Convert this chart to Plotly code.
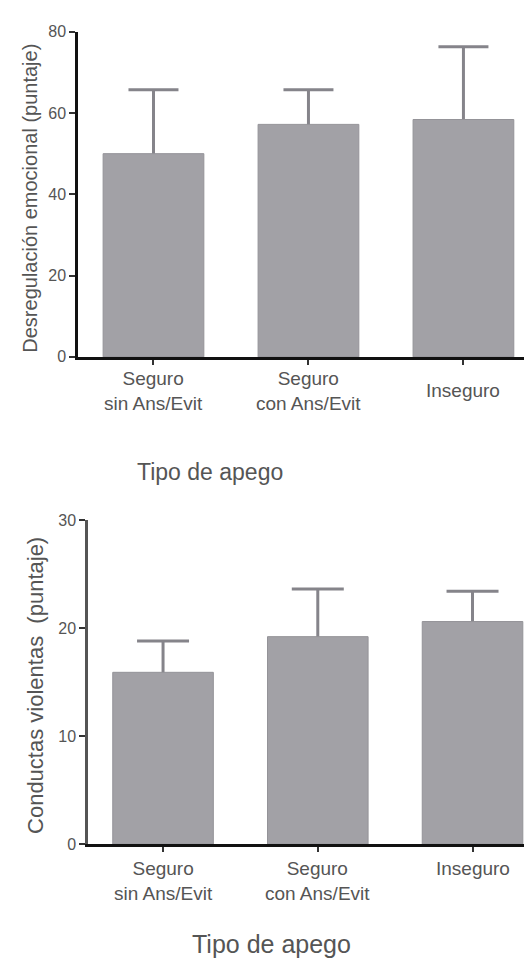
import plotly.graph_objects as go

# ---- data ----
categories = ["Seguro<br>sin Ans/Evit", "Seguro<br>con Ans/Evit", "Inseguro"]
desregulacion_mean = [50.0, 57.2, 58.4]
desregulacion_err = [15.7, 8.5, 17.9]
conductas_mean = [15.9, 19.2, 20.6]
conductas_err = [2.9, 4.4, 2.8]
y1_ticks = [0, 20, 40, 60, 80]
y2_ticks = [0, 10, 20, 30]
y1_title = "Desregulación emocional (puntaje)"
y2_title = "Conductas violentas  (puntaje)"
x_title = "Tipo de apego"

W, H = 532, 964
BAR = "#a2a1a6"
BAR_EDGE = "#949398"
ERR = "#85848a"
TXT = "#555555"
FONT = "Liberation Sans, Arial, sans-serif"

def px(v):
    return v / W

def py(v):
    return 1 - v / H

fig = go.Figure()

def add_panel(means, errs, xa, ya, capw):
    # transparent bar carrying symmetric error bars (lower half hidden by the bar drawn above)
    fig.add_trace(go.Bar(
        x=categories, y=means, width=0.65,
        marker=dict(color="rgba(0,0,0,0)", line=dict(width=0)),
        error_y=dict(type="data", array=errs, symmetric=True,
                     color=ERR, thickness=3, width=capw),
        xaxis=xa, yaxis=ya, showlegend=False, hoverinfo="skip"))
    fig.add_trace(go.Bar(
        x=categories, y=means, width=0.65,
        marker=dict(color=BAR, line=dict(width=1, color=BAR_EDGE)),
        xaxis=xa, yaxis=ya, showlegend=False))

add_panel(desregulacion_mean, desregulacion_err, "x", "y", 25)
add_panel(conductas_mean, conductas_err, "x2", "y2", 26)

xcommon = dict(type="category", showgrid=False, zeroline=False,
               showline=True, linecolor="#111111", linewidth=3,
               ticks="outside", ticklen=5, tickwidth=2, tickcolor="#333333",
               showticklabels=False, fixedrange=True)
ycommon = dict(showgrid=False, zeroline=False, showline=True,
               ticks="outside", ticklen=6, tickwidth=1.5, tickcolor="#333333",
               tickfont=dict(family=FONT, size=16, color=TXT), fixedrange=True)

fig.update_layout(
    width=W, height=H,
    margin=dict(l=0, r=0, t=0, b=0),
    paper_bgcolor="white", plot_bgcolor="white",
    barmode="overlay",
    xaxis=dict(domain=[px(70), 1], range=[-0.487, 2.494], anchor="y", **xcommon),
    yaxis=dict(domain=[py(347), py(16)], range=[0, 80], tickvals=y1_ticks,
               anchor="x", linecolor="#111111", linewidth=2.5, **ycommon),
    xaxis2=dict(domain=[px(80), 1], range=[-0.485, 2.436], anchor="y2", **xcommon),
    yaxis2=dict(domain=[py(843), py(513)], range=[0, 30], tickvals=y2_ticks,
                anchor="x2", linecolor="#555555", linewidth=2.5, **ycommon),
)

ann = []
for c in categories:
    ann.append(dict(x=c, y=0, xref="x", yref="y", text=c, showarrow=False,
                    yanchor="middle", yshift=-34,
                    font=dict(family=FONT, size=19, color=TXT)))
    ann.append(dict(x=c, y=0, xref="x2", yref="y2", text=c, showarrow=False,
                    yanchor="top", yshift=-12,
                    font=dict(family=FONT, size=19, color=TXT)))

ann += [
    dict(x=px(22), y=py(186), xref="paper", yref="paper", text=y1_title,
         textangle=-90, showarrow=False, xanchor="center", yanchor="middle",
         font=dict(family=FONT, size=20, color=TXT)),
    dict(x=px(28), y=py(682), xref="paper", yref="paper", text=y2_title,
         textangle=-90, showarrow=False, xanchor="center", yanchor="middle",
         font=dict(family=FONT, size=22, color=TXT)),
    dict(x=px(202), y=py(464), xref="paper", yref="paper", text=x_title,
         showarrow=False, xanchor="center", yanchor="middle",
         font=dict(family=FONT, size=23, color=TXT)),
    dict(x=px(263), y=py(945), xref="paper", yref="paper", text=x_title,
         showarrow=False, xanchor="center", yanchor="middle",
         font=dict(family=FONT, size=25, color=TXT)),
]
fig.update_layout(annotations=ann)

fig.write_html("out.html", config={"displayModeBar": False})
